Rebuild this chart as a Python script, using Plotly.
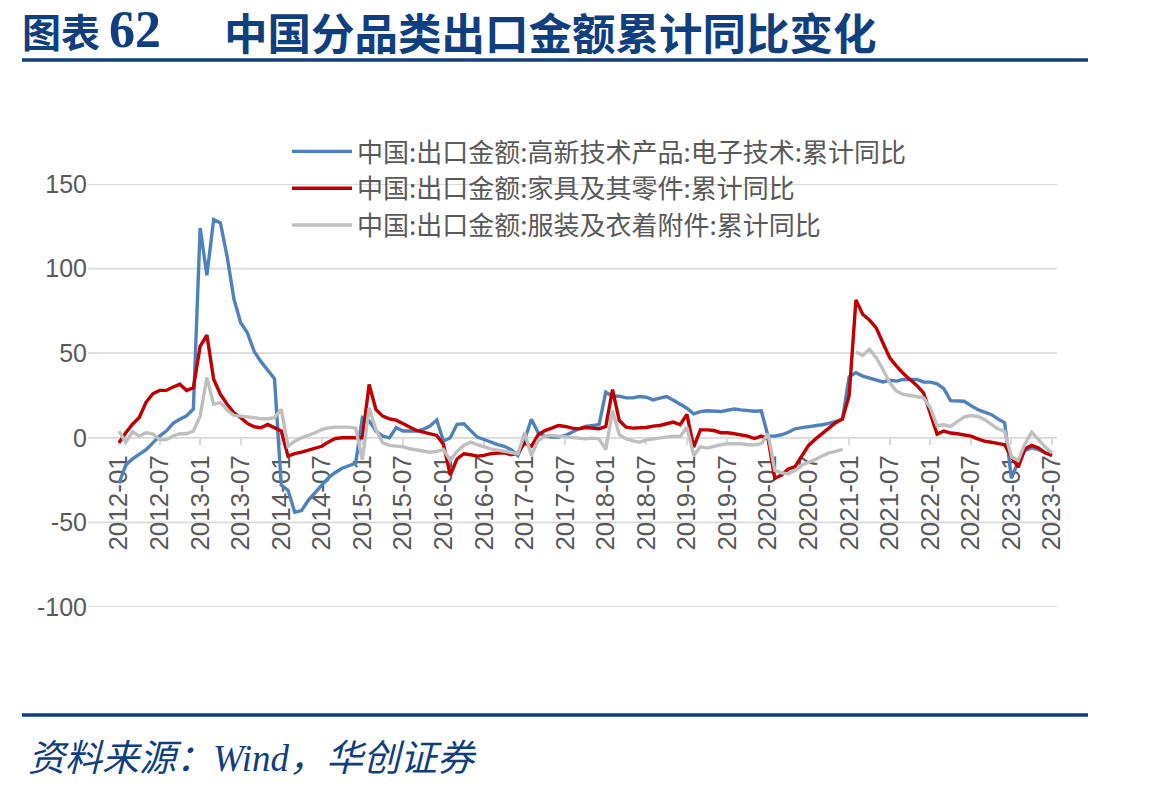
import plotly.graph_objects as go

# ---- data -------------------------------------------------------------
months = [f"{y}-{m:02d}" for y in range(2012, 2024) for m in range(1, 13)][:139]

electronics = [
    -27, -16, -12.5, -10, -7, -3, 1, 4, 8.5, 11, 13, 17,            # 2012
    124, 96, 129, 127, 107, 82, 68, 62, 51, 45, 40, 35,             # 2013
    -28, -31, -44, -43, -37, -32.5, -27.5, -23.5, -20.5, -18, -16.5, -15,  # 2014
    12, 10, 4, 1, 0, 6, 4, 4, 4, 5, 7, 10.5,                         # 2015
    -2, 0, 8, 8.3, 4.3, 0.4, -1, -2.6, -4, -5, -7, -10.5,            # 2016
    -1, 11, 3, 1, 0.4, 0.4, 1.4, 3.3, 5.3, 6.7, 7.3, 7.7,            # 2017
    27, 24.6, 24.6, 23.6, 23.6, 24.4, 24, 22.4, 23.4, 24.4, 22.2, 20,  # 2018
    17.5, 14.2, 15.5, 16, 15.7, 15.5, 16.3, 17, 16.5, 16, 15.7, 16,  # 2019
    1, 1, 1.8, 3.3, 5.3, 6, 6.5, 6.9, 7.7, 8.5, 9.9, 10.8,           # 2020
    36, 38.5, 36.5, 35.3, 34, 33, 34, 33.5, 34.5, 34.5, 34.5, 33,    # 2021
    32.9, 31.9, 29, 22, 22, 21.6, 19, 16.7, 15.2, 13.8, 11.2, 8.9,   # 2022
    -24, -14, -7.5, -6, -7, -9, -10.4,                               # 2023
]

furniture = [
    -3, 3, 8, 12, 21, 26, 28, 28, 30, 31.6, 28, 29.6,                # 2012
    54, 60.7, 34.6, 25.7, 19.8, 14.8, 11.9, 8.5, 6.5, 5.9, 7.9, 5.9, # 2013
    4, -10.8, -9.3, -8.5, -7.3, -6.3, -5, -2.4, -0.4, 0, 0, 0,       # 2014
    0, 31.5, 16.7, 12.8, 11.2, 10.4, 8.3, 5.9, 4.3, 3.3, 2.6, 1.4,   # 2015
    -4, -22, -12.5, -9.4, -10, -10.8, -10.4, -9.4, -9, -8.9, -10, -9,  # 2016
    -3, -5, 1.8, 4.3, 5.7, 7.3, 6.7, 5.7, 5.3, 6.1, 5.7, 5.3,        # 2017
    6.7, 28.5, 10.2, 6.3, 5.7, 5.7, 6.1, 6.9, 7.3, 8.3, 9.3, 7.7,    # 2018
    13.8, -5.5, 4.7, 4.7, 4.3, 3, 3, 2.4, 1.8, 1, -0.4, 1,           # 2019
    -0.5, -24, -22, -18.5, -17, -11, -4.5, -0.8, 2.6, 5.9, 8.9, 11.2,  # 2020
    25, 81.5, 73, 69.6, 65, 56, 47.3, 42.4, 38, 34.5, 31, 26.6,      # 2021
    14.8, 2.2, 4, 2.8, 2.4, 1.8, 1, -0.6, -2, -2.6, -3.5, -4.1,      # 2022
    -11.4, -17.3, -6.5, -4.5, -6, -8.9, -10.4,                       # 2023
]

apparel = [
    4, -2.6, 3.6, 1, 3, 2.4, -1, -1, 1, 2.4, 2.4, 4,                 # 2012
    12.8, 35.6, 19.8, 20.8, 16.4, 13.2, 12.8, 12.5, 11.9, 11.3, 11.3, 11.9,  # 2013
    16.8, -5, -2, 0, 1.4, 3, 4.9, 5.9, 6.3, 6.3, 6.3, 5.7,           # 2014
    -13, 17.7, 4.9, -3, -4.5, -4.9, -5.3, -6.5, -7.3, -8, -8.5, -8,  # 2015
    -6.9, -13.5, -8, -4.5, -2.6, -4, -5.5, -6.5, -7.3, -7.9, -8.9, -9.4,  # 2016
    3, -10.4, -1.6, 1, 1.4, 1, 0.4, -0.2, -0.6, -0.6, -0.2, -0.6,    # 2017
    -6.9, 16, 1.8, -0.6, -1.8, -2.6, -1.2, -0.6, 0, 0.6, 1, 0.8,     # 2018
    6.3, -10.4, -5.3, -6.1, -4.9, -4.1, -3.5, -3.5, -3.5, -4.1, -4.1, -3.5,  # 2019
    2.4, -19.3, -20.7, -21.3, -19.3, -16, -14.5, -12.8, -10.8, -8.9, -8, -6.9,  # 2020
    None, 50.7, 48.7, 52.3, 47.3, 40.4, 32.5, 27.6, 25.6, 25, 24.3, 23.7,  # 2021
    17.8, 7.1, 7.7, 6.7, 9.6, 12.2, 13.2, 12.6, 10.8, 8.3, 5.3, 3.7, # 2022
    -11.4, -13.4, -3.5, 3.3, -1, -5.5, -8.9,                         # 2023
]

series_names = [
    "中国:出口金额:高新技术产品:电子技术:累计同比",
    "中国:出口金额:家具及其零件:累计同比",
    "中国:出口金额:服装及衣着附件:累计同比",
]
series_colors = ["#4f81bd", "#c00000", "#bfbfbf"]
y_ticks = [-100, -50, 0, 50, 100, 150]

title_prefix = "图表"
title_number = "62"
title_text = "中国分品类出口金额累计同比变化"
source_text = "资料来源：Wind，华创证券"

# ---- layout helpers (pixel -> paper) ----------------------------------
W, H = 1149, 792
px = lambda x: x / W
py = lambda y: 1 - y / H

fig = go.Figure()
for name, vals, col in zip(series_names, [electronics, furniture, apparel], series_colors):
    fig.add_trace(go.Scatter(
        x=months, y=vals, name=name, mode="lines",
        line=dict(color=col, width=3.4), connectgaps=False,
    ))

y_dom = [py(607), py(184)]
zero_pos = y_dom[0] + (0 - (-100)) / 250 * (y_dom[1] - y_dom[0])

fig.update_layout(
    template="none",
    width=W, height=H,
    margin=dict(l=0, r=0, t=0, b=0, pad=0, autoexpand=False),
    paper_bgcolor="white", plot_bgcolor="white",
    font=dict(family="Liberation Sans, Arial, Noto Sans CJK SC", color="#595959"),
    showlegend=True,
    legend=dict(
        x=px(287), y=py(128), xanchor="left", yanchor="top",
        bgcolor="rgba(0,0,0,0)", borderwidth=0, itemwidth=60,
        font=dict(family="Noto Sans CJK SC", size=26, color="#595959"),
        tracegroupgap=0,
    ),
    xaxis=dict(
        type="category", domain=[px(88), px(1057)],
        range=[-4.585, 138.74], automargin=False,
        tickmode="linear", tick0=0, dtick=6,
        tickangle=-90, tickfont=dict(size=26, color="#595959"),
        ticks="outside", ticklen=6, tickcolor="#d9d9d9", tickwidth=1.5,
        showgrid=False, showline=False, zeroline=False,
        anchor="free", position=zero_pos, layer="below traces",
    ),
    yaxis=dict(
        domain=y_dom, range=[-100, 150], automargin=False,
        tickvals=y_ticks, ticktext=[str(v) for v in y_ticks],
        tickfont=dict(size=25, color="#595959"),
        showgrid=False, zeroline=False, showline=False, ticks="",
    ),
)

# horizontal gridlines at each y tick
for v in y_ticks:
    fig.add_shape(type="line", xref="x domain", yref="y",
                  x0=0, x1=1, y0=v, y1=v, layer="below",
                  line=dict(color="#d9d9d9", width=1.8))

navy = "#103f7f"
fig.add_shape(type="line", xref="paper", yref="paper",
              x0=px(22), x1=px(1088), y0=py(60), y1=py(60),
              line=dict(color=navy, width=3.5))
fig.add_shape(type="line", xref="paper", yref="paper",
              x0=px(22), x1=px(1088), y0=py(715), y1=py(715),
              line=dict(color=navy, width=3.5))

fig.add_annotation(xref="paper", yref="paper", x=px(20), y=py(30),
                   xanchor="left", yanchor="middle", showarrow=False,
                   text="<b>" + title_prefix + "</b>",
                   font=dict(family="Noto Sans CJK SC", size=39, color=navy))
fig.add_annotation(xref="paper", yref="paper", x=px(107), y=py(30),
                   xanchor="left", yanchor="middle", showarrow=False,
                   text="<b>" + title_number + "</b>",
                   font=dict(family="Liberation Serif", size=52, color=navy))
fig.add_annotation(xref="paper", yref="paper", x=px(222), y=py(31),
                   xanchor="left", yanchor="middle", showarrow=False,
                   text="<b>" + title_text + "</b>",
                   font=dict(family="Noto Sans CJK SC", size=43.5, color=navy))
fig.add_annotation(xref="paper", yref="paper", x=px(26), y=py(758),
                   xanchor="left", yanchor="middle", showarrow=False,
                   text="<i>" + source_text + "</i>",
                   font=dict(family="Liberation Serif, Noto Sans CJK SC", size=37, color=navy))

fig.write_html("out.html")
